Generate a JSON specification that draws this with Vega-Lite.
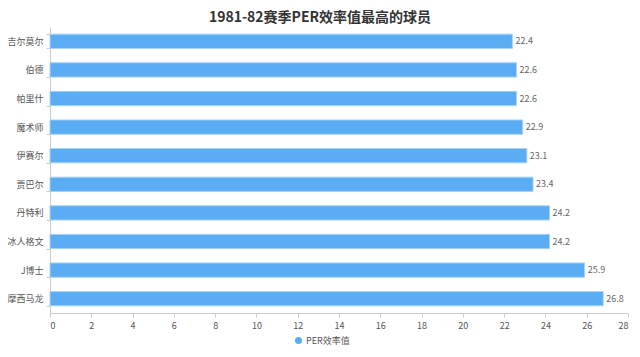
{
  "$schema": "https://vega.github.io/schema/vega-lite/v6.json",
  "width": 578,
  "height": 286,
  "autosize": {"type": "none"},
  "padding": {"left": 50, "top": 27, "right": 12, "bottom": 44},
  "background": "white",
  "config": {"view": {"stroke": null}, "font": "Noto Sans CJK SC"},
  "title": {
    "text": "1981-82赛季PER效率值最高的球员",
    "font": "Noto Sans CJK SC",
    "fontSize": 14,
    "fontWeight": "bold",
    "color": "#333333",
    "anchor": "middle",
    "dx": -19,
    "offset": -2
  },
  "data": {
    "values": [
      {"player": "吉尔莫尔", "per": 22.4, "series": "PER效率值"},
      {"player": "伯德", "per": 22.6, "series": "PER效率值"},
      {"player": "帕里什", "per": 22.6, "series": "PER效率值"},
      {"player": "魔术师", "per": 22.9, "series": "PER效率值"},
      {"player": "伊赛尔", "per": 23.1, "series": "PER效率值"},
      {"player": "贾巴尔", "per": 23.4, "series": "PER效率值"},
      {"player": "丹特利", "per": 24.2, "series": "PER效率值"},
      {"player": "冰人格文", "per": 24.2, "series": "PER效率值"},
      {"player": "J博士", "per": 25.9, "series": "PER效率值"},
      {"player": "摩西马龙", "per": 26.8, "series": "PER效率值"}
    ]
  },
  "encoding": {
    "y": {
      "field": "player",
      "type": "nominal",
      "sort": null,
      "scale": {"paddingInner": 0.5, "paddingOuter": 0.25},
      "axis": {
        "title": null,
        "labelFontSize": 9,
        "labelColor": "#555555",
        "labelPadding": 3,
        "domainColor": "#cccccc",
        "tickColor": "#cccccc",
        "tickSize": 4,
        "tickBand": "extent",
        "grid": false
      }
    },
    "x": {
      "field": "per",
      "type": "quantitative",
      "scale": {"domain": [0, 28], "nice": false},
      "axis": {
        "title": null,
        "values": [0, 2, 4, 6, 8, 10, 12, 14, 16, 18, 20, 22, 24, 26, 28],
        "labelFontSize": 9,
        "labelColor": "#555555",
        "labelPadding": 4,
        "domainColor": "#cccccc",
        "tickColor": "#cccccc",
        "tickSize": 4,
        "grid": false
      }
    }
  },
  "layer": [
    {
      "mark": {"type": "bar", "stroke": "#a8d3fa", "strokeWidth": 1},
      "encoding": {
        "color": {
          "field": "series",
          "type": "nominal",
          "scale": {"range": ["#5aacf3"]},
          "legend": {
            "title": null,
            "orient": "none",
            "legendX": 244,
            "legendY": 309,
            "direction": "horizontal",
            "symbolType": "circle",
            "symbolSize": 50,
            "symbolStrokeWidth": 0,
            "labelFontSize": 9,
            "labelColor": "#555555",
            "labelOffset": 3
          }
        }
      }
    },
    {
      "mark": {"type": "text", "align": "left", "dx": 3, "fontSize": 9, "color": "#666666"},
      "encoding": {
        "text": {"field": "per", "type": "quantitative", "format": ".1f"}
      }
    }
  ]
}
